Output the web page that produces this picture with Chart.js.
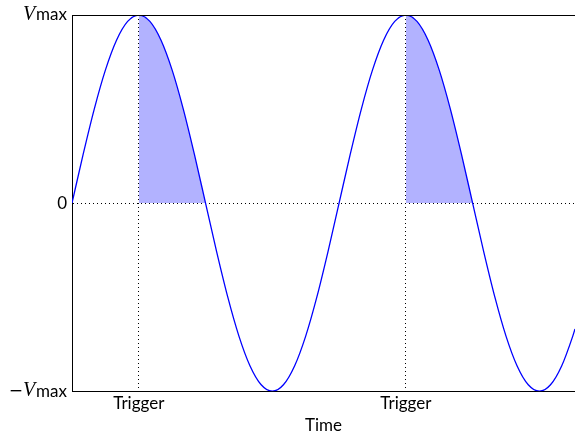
<!DOCTYPE html>
<html>
<head>
<meta charset="utf-8">
<script src="https://cdn.jsdelivr.net/npm/chart.js@4/dist/chart.umd.min.js"></script>
<style>
  html, body { margin: 0; padding: 0; background: #fff; }
  #wrap { width: 575px; height: 441px; }
</style>
</head>
<body>
<div id="wrap"><canvas id="chart"></canvas></div>
<script>
// phase of the signal (degrees) and normalised voltage
const phase = [0, 15, 30, 45, 60, 75, 90, 105, 120, 135, 150, 165, 180, 195, 210, 225,
  240, 255, 270, 285, 300, 315, 330, 345, 360, 375, 390, 405, 420, 435, 450, 465, 480,
  495, 510, 525, 540, 555, 570, 585, 600, 615, 630, 645, 660, 675, 678];
const voltage = [0, 0.259, 0.5, 0.707, 0.866, 0.966, 1, 0.966, 0.866, 0.707, 0.5, 0.259,
  0, -0.259, -0.5, -0.707, -0.866, -0.966, -1, -0.966, -0.866, -0.707, -0.5, -0.259,
  0, 0.259, 0.5, 0.707, 0.866, 0.966, 1, 0.966, 0.866, 0.707, 0.5, 0.259,
  0, -0.259, -0.5, -0.707, -0.866, -0.966, -1, -0.966, -0.866, -0.707, -0.669];

// trigger instants and the shaded windows after each trigger
const triggerTicks = [90, 450];
const shadeWindows = [[90, 180], [450, 540]];

// y tick labels: [prefix, italic symbol, suffix]
const yTickValues = [-1, 0, 1];
const yTickLabels = {'-1': ['\u2212', 'V', 'max'], '0': ['', '', '0'], '1': ['', 'V', 'max']};

const points = phase.map((t, i) => ({x: t, y: voltage[i]}));

const shadeSets = shadeWindows.map(([a, b]) => ({
  data: points.filter(p => p.x >= a && p.x <= b),
  borderWidth: 0,
  pointRadius: 0,
  backgroundColor: 'rgba(0,0,255,0.3)',
  fill: 'origin',
  cubicInterpolationMode: 'monotone',
}));

const frame = {
  id: 'frame',
  afterDraw(chart) {
    const {ctx, chartArea} = chart;
    const y = chart.scales.y;
    ctx.save();
    ctx.strokeStyle = '#000';
    ctx.lineWidth = 1;
    ctx.beginPath();
    ctx.moveTo(chartArea.left, chartArea.top + 0.5);
    ctx.lineTo(chartArea.right, chartArea.top + 0.5);
    ctx.stroke();

    ctx.fillStyle = '#000';
    ctx.textBaseline = 'middle';
    for (const v of yTickValues) {
      const [pre, sym, rest] = yTickLabels[String(v)];
      const py = y.getPixelForValue(v);
      let x = chartArea.left - 5;
      ctx.font = '17px Lato';
      const wRest = ctx.measureText(rest).width;
      ctx.fillText(rest, x - wRest, py);
      x -= wRest;
      if (sym) {
        ctx.font = 'italic 20px "Liberation Serif"';
        const wSym = ctx.measureText(sym).width;
        ctx.fillText(sym, x - wSym - 1, py);
        x -= wSym + 1;
      }
      if (pre) {
        ctx.font = '17px "DejaVu Sans"';
        const wPre = ctx.measureText(pre).width;
        ctx.fillText(pre, x - wPre, py);
      }
    }
    ctx.restore();
  }
};

new Chart(document.getElementById('chart'), {
  type: 'line',
  data: {
    datasets: [
      ...shadeSets,
      {
        data: points,
        borderColor: '#0000ff',
        borderWidth: 1.3,
        pointRadius: 0,
        fill: false,
        cubicInterpolationMode: 'monotone',
      },
    ],
  },
  options: {
    responsive: true,
    maintainAspectRatio: false,
    animation: false,
    layout: {padding: {left: 72, top: 15, right: 0, bottom: 0}},
    plugins: {legend: {display: false}, tooltip: {enabled: false}},
    scales: {
      x: {
        type: 'linear',
        min: 0,
        max: 678,
        afterBuildTicks: axis => { axis.ticks = triggerTicks.map(v => ({value: v})); },
        ticks: {
          callback: () => 'Trigger',
          autoSkip: false,
          maxRotation: 0,
          padding: 2,
          color: '#000',
          font: {family: 'Lato', size: 17},
        },
        grid: {color: '#000', lineWidth: 1, drawTicks: false},
        border: {display: true, color: '#000', width: 1, dash: [1, 3]},
        title: {
          display: true,
          text: 'Time',
          color: '#000',
          font: {family: 'Lato', size: 17},
          padding: {top: 0, bottom: 5},
        },
      },
      y: {
        min: -1,
        max: 1,
        afterBuildTicks: axis => { axis.ticks = yTickValues.map(v => ({value: v})); },
        ticks: {display: false},
        grid: {
          color: c => (c.tick && c.tick.value === 0 ? '#000' : 'rgba(0,0,0,0)'),
          lineWidth: 1,
          drawTicks: false,
        },
        border: {display: true, color: '#000', width: 1, dash: [1, 3]},
      },
    },
  },
  plugins: [frame],
});
</script>
</body>
</html>
